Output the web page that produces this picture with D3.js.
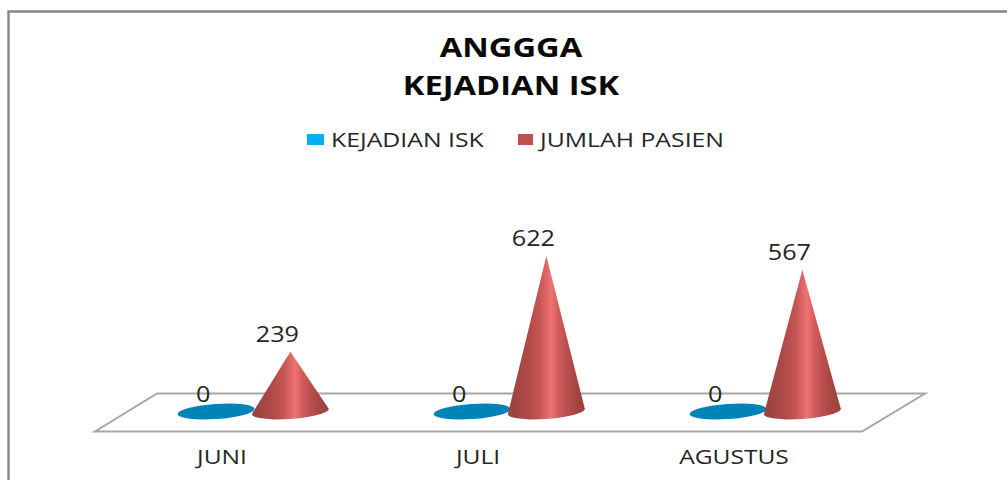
<!DOCTYPE html>
<html><head><meta charset="utf-8">
<script src="https://cdn.jsdelivr.net/npm/d3@7/dist/d3.min.js"></script>
<style>html,body{margin:0;padding:0;background:#fff}svg{display:block}text{font-family:"Open Sans",sans-serif}</style>
</head><body><svg id="c" width="1007" height="480"></svg>
<script>
const categories = ["JUNI","JULI","AGUSTUS"];
const seriesNames = ["KEJADIAN ISK","JUMLAH PASIEN"];
const kejadianIsk = [0,0,0];
const jumlahPasien = [239,622,567];
const titleLines = ["ANGGGA","KEJADIAN ISK"];

const svg = d3.select("#c");
const defs = svg.append("defs");
const grad = defs.append("linearGradient").attr("id","cone").attr("x1",0).attr("x2",1).attr("y1",0).attr("y2",0);
[[0,"#9a4240"],[.25,"#ad4a48"],[.42,"#c65654"],[.56,"#f07472"],[.66,"#d05c5a"],[.85,"#aa4745"],[1,"#963f3d"]]
 .forEach(([o,c])=>grad.append("stop").attr("offset",o).attr("stop-color",c));

// the source picture is stretched horizontally: widen each text by a factor
function stretched(sel, factor){
  const n = sel.node();
  sel.attr("textLength", n.getComputedTextLength()*factor).attr("lengthAdjust","spacingAndGlyphs");
  return sel;
}

// chart frame (top and left edges only are visible)
svg.append("path").attr("d","M8.5,480V11.5H1007").attr("fill","none").attr("stroke","#868686").attr("stroke-width",2.4);

// scales
const x = d3.scaleBand().domain(categories).range([93,861]);
const s = d3.scaleBand().domain(seriesNames).range([x.bandwidth()*0.336,x.bandwidth()*0.916]);
const y = d3.scaleLinear().domain([0,622]).range([411.5,256]);
const rx = 38.5, ry = 7.5;

// floor
svg.append("path").attr("d","M95,431.5L157,393.5H925L862,431.5Z").attr("fill","#fff").attr("stroke","#a6a6a6").attr("stroke-width",2);

// titles
const title = svg.append("g").attr("text-anchor","middle").attr("font-weight",700).attr("font-size",27).attr("fill","#0a0a0a");
titleLines.forEach((t,i)=>stretched(title.append("text").attr("x",511).attr("y",57+i*38).text(t),1.21));

// legend
const legendX = [[307,331],[518,540]];
const legendW = [17,15];
const legendColors = ["#00b0f0","#c0504d"];
seriesNames.forEach((n,i)=>{
  svg.append("rect").attr("x",legendX[i][0]).attr("y",134).attr("width",legendW[i]).attr("height",11).attr("fill",legendColors[i]);
  stretched(svg.append("text").attr("x",legendX[i][1]).attr("y",146.5).attr("font-size",20.5).attr("fill","#262626").text(n),1.21);
});

// marks
const g = svg.append("g");
categories.forEach((c,i)=>{
  const cx0 = x(c)+s(seriesNames[0])+s.bandwidth()/2;
  const cx1 = x(c)+s(seriesNames[1])+s.bandwidth()/2;
  const v0 = kejadianIsk[i], v1 = jumlahPasien[i];
  g.append("ellipse").attr("cx",cx0).attr("cy",y(v0)).attr("rx",rx).attr("ry",ry)
    .attr("transform",`rotate(-4 ${cx0} ${y(v0)})`).attr("fill","#0083b7");
  const by=y(0), ty=y(v1);
  g.append("path").attr("d",`M${cx1},${ty}L${cx1+rx},${by-2.5}A${rx},${ry} -4 0 1 ${cx1-rx},${by+2.5}Z`).attr("fill","url(#cone)");
  stretched(g.append("text").attr("x",cx0-13).attr("y",402).attr("text-anchor","middle").attr("font-size",21).attr("fill","#262626").text(v0),1.2);
  stretched(g.append("text").attr("x",cx1-13).attr("y",ty-10).attr("text-anchor","middle").attr("font-size",21).attr("fill","#262626").text(v1),1.2);
  stretched(g.append("text").attr("x",x(c)+x.bandwidth()/2+1).attr("y",464).attr("text-anchor","middle").attr("font-size",19.5).attr("fill","#262626").text(c),1.26);
});
</script></body></html>
